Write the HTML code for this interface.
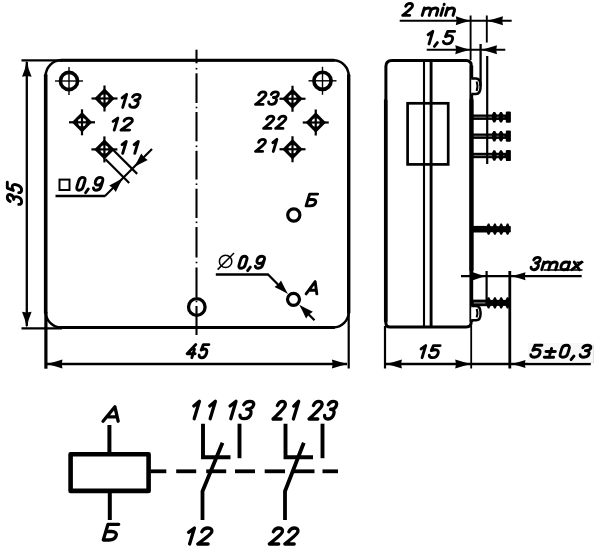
<!DOCTYPE html>
<html><head><meta charset="utf-8"><title>diagram</title>
<style>html,body{margin:0;padding:0;background:#fff;}svg{display:block;}</style></head>
<body><svg width="600" height="560" viewBox="0 0 600 560">
<defs><filter id="soft" x="0" y="0" width="600" height="560" filterUnits="userSpaceOnUse"><feGaussianBlur stdDeviation="0.7"/></filter></defs>
<rect width="600" height="560" fill="#fff"/>
<g filter="url(#soft)">
<rect x="45.7" y="60.3" width="303.0" height="267.2" rx="15.5" ry="15.5" fill="none" stroke="#000" stroke-width="2.5"/>
<line x1="60.70" y1="60.30" x2="333.70" y2="60.30" stroke="#000" stroke-width="3.0" stroke-linecap="round"/>
<line x1="60.70" y1="327.50" x2="333.70" y2="327.50" stroke="#000" stroke-width="3.2" stroke-linecap="round"/>
<line x1="45.70" y1="75.30" x2="45.70" y2="312.50" stroke="#000" stroke-width="3.6" stroke-linecap="round"/>
<line x1="348.70" y1="75.30" x2="348.70" y2="312.50" stroke="#000" stroke-width="3.4" stroke-linecap="round"/>
<line x1="21.50" y1="60.30" x2="62.00" y2="60.30" stroke="#000" stroke-width="2.3" stroke-linecap="butt"/>
<line x1="21.50" y1="328.30" x2="62.00" y2="328.30" stroke="#000" stroke-width="2.3" stroke-linecap="butt"/>
<line x1="45.90" y1="312.00" x2="45.90" y2="368.70" stroke="#000" stroke-width="3.2" stroke-linecap="butt"/>
<line x1="348.70" y1="312.00" x2="348.70" y2="368.50" stroke="#000" stroke-width="2.2" stroke-linecap="butt"/>
<line x1="26.80" y1="62.00" x2="26.80" y2="326.00" stroke="#000" stroke-width="2.3" stroke-linecap="butt"/>
<path d="M26.80,60.30 Q28.00,68.55 31.60,76.80 L26.80,76.00 L22.00,76.80 Q25.60,68.55 26.80,60.30 Z" fill="#000"/>
<path d="M26.80,328.30 Q25.60,320.05 22.00,311.80 L26.80,312.60 L31.60,311.80 Q28.00,320.05 26.80,328.30 Z" fill="#000"/>
<line x1="47.00" y1="364.00" x2="347.00" y2="364.00" stroke="#000" stroke-width="2.3" stroke-linecap="butt"/>
<path d="M46.50,364.00 Q54.50,362.11 62.50,359.50 L61.70,364.00 L62.50,368.50 Q54.50,365.89 46.50,364.00 Z" fill="#000"/>
<path d="M347.90,364.00 Q339.90,365.89 331.90,368.50 L332.70,364.00 L331.90,359.50 Q339.90,362.11 347.90,364.00 Z" fill="#000"/>
<line x1="196.50" y1="49.70" x2="196.50" y2="63.30" stroke="#000" stroke-width="2.1" stroke-linecap="butt"/>
<line x1="196.50" y1="73.30" x2="196.50" y2="103.00" stroke="#000" stroke-width="2.1" stroke-linecap="butt"/>
<line x1="196.50" y1="112.00" x2="196.50" y2="141.30" stroke="#000" stroke-width="2.1" stroke-linecap="butt"/>
<line x1="196.50" y1="150.80" x2="196.50" y2="179.50" stroke="#000" stroke-width="2.1" stroke-linecap="butt"/>
<line x1="196.50" y1="188.70" x2="196.50" y2="218.00" stroke="#000" stroke-width="2.1" stroke-linecap="butt"/>
<line x1="196.50" y1="227.00" x2="196.50" y2="257.50" stroke="#000" stroke-width="2.1" stroke-linecap="butt"/>
<line x1="196.50" y1="267.50" x2="196.50" y2="297.00" stroke="#000" stroke-width="2.1" stroke-linecap="butt"/>
<line x1="196.50" y1="306.00" x2="196.50" y2="335.00" stroke="#000" stroke-width="2.1" stroke-linecap="butt"/>
<line x1="196.50" y1="67.90" x2="196.50" y2="69.50" stroke="#000" stroke-width="1.7" stroke-linecap="butt"/>
<line x1="196.50" y1="106.70" x2="196.50" y2="108.30" stroke="#000" stroke-width="1.7" stroke-linecap="butt"/>
<line x1="196.50" y1="145.50" x2="196.50" y2="147.10" stroke="#000" stroke-width="1.7" stroke-linecap="butt"/>
<line x1="196.50" y1="183.40" x2="196.50" y2="185.00" stroke="#000" stroke-width="1.7" stroke-linecap="butt"/>
<line x1="196.50" y1="221.50" x2="196.50" y2="223.10" stroke="#000" stroke-width="1.7" stroke-linecap="butt"/>
<line x1="196.50" y1="261.70" x2="196.50" y2="263.30" stroke="#000" stroke-width="1.7" stroke-linecap="butt"/>
<line x1="196.50" y1="300.70" x2="196.50" y2="302.30" stroke="#000" stroke-width="1.7" stroke-linecap="butt"/>
<circle cx="69" cy="81" r="8.6" fill="none" stroke="#000" stroke-width="3.6"/>
<line x1="55.00" y1="81.00" x2="83.00" y2="81.00" stroke="#000" stroke-width="1.4" stroke-linecap="butt"/>
<line x1="69.00" y1="67.00" x2="69.00" y2="95.00" stroke="#000" stroke-width="1.4" stroke-linecap="butt"/>
<circle cx="322.5" cy="80.8" r="8.6" fill="none" stroke="#000" stroke-width="3.6"/>
<line x1="308.50" y1="80.80" x2="336.50" y2="80.80" stroke="#000" stroke-width="1.4" stroke-linecap="butt"/>
<line x1="322.50" y1="66.80" x2="322.50" y2="94.80" stroke="#000" stroke-width="1.4" stroke-linecap="butt"/>
<circle cx="196.8" cy="307" r="8.3" fill="none" stroke="#000" stroke-width="3.3"/>
<circle cx="293.8" cy="215" r="6.1" fill="none" stroke="#000" stroke-width="3.2"/>
<circle cx="293.5" cy="299.3" r="6.0" fill="none" stroke="#000" stroke-width="3.2"/>
<polygon points="104.5,88.3 114.7,98.5 104.5,108.7 94.3,98.5" fill="#000"/>
<circle cx="104.5" cy="98.5" r="4.2" fill="#fff"/>
<line x1="91.50" y1="98.50" x2="117.50" y2="98.50" stroke="#000" stroke-width="2.2" stroke-linecap="butt"/>
<line x1="104.50" y1="85.50" x2="104.50" y2="111.50" stroke="#000" stroke-width="2.2" stroke-linecap="butt"/>
<polygon points="82,112.1 92.2,122.3 82,132.5 71.8,122.3" fill="#000"/>
<circle cx="82" cy="122.3" r="4.2" fill="#fff"/>
<line x1="69.00" y1="122.30" x2="95.00" y2="122.30" stroke="#000" stroke-width="2.2" stroke-linecap="butt"/>
<line x1="82.00" y1="109.30" x2="82.00" y2="135.30" stroke="#000" stroke-width="2.2" stroke-linecap="butt"/>
<polygon points="104.4,139.20000000000002 114.60000000000001,149.4 104.4,159.6 94.2,149.4" fill="#000"/>
<circle cx="104.4" cy="149.4" r="4.2" fill="#fff"/>
<line x1="91.40" y1="149.40" x2="117.40" y2="149.40" stroke="#000" stroke-width="2.2" stroke-linecap="butt"/>
<line x1="104.40" y1="136.40" x2="104.40" y2="162.40" stroke="#000" stroke-width="2.2" stroke-linecap="butt"/>
<polygon points="292.5,88.55 302.7,98.75 292.5,108.95 282.3,98.75" fill="#000"/>
<circle cx="292.5" cy="98.75" r="4.2" fill="#fff"/>
<line x1="279.50" y1="98.75" x2="305.50" y2="98.75" stroke="#000" stroke-width="2.2" stroke-linecap="butt"/>
<line x1="292.50" y1="85.75" x2="292.50" y2="111.75" stroke="#000" stroke-width="2.2" stroke-linecap="butt"/>
<polygon points="315.75,112.3 325.95,122.5 315.75,132.7 305.55,122.5" fill="#000"/>
<circle cx="315.75" cy="122.5" r="4.2" fill="#fff"/>
<line x1="302.75" y1="122.50" x2="328.75" y2="122.50" stroke="#000" stroke-width="2.2" stroke-linecap="butt"/>
<line x1="315.75" y1="109.50" x2="315.75" y2="135.50" stroke="#000" stroke-width="2.2" stroke-linecap="butt"/>
<polygon points="292.5,139.05 302.7,149.25 292.5,159.45 282.3,149.25" fill="#000"/>
<circle cx="292.5" cy="149.25" r="4.2" fill="#fff"/>
<line x1="279.50" y1="149.25" x2="305.50" y2="149.25" stroke="#000" stroke-width="2.2" stroke-linecap="butt"/>
<line x1="292.50" y1="136.25" x2="292.50" y2="162.25" stroke="#000" stroke-width="2.2" stroke-linecap="butt"/>
<line x1="113.50" y1="150.20" x2="137.20" y2="173.90" stroke="#000" stroke-width="2.2" stroke-linecap="butt"/>
<line x1="105.50" y1="159.30" x2="129.20" y2="183.00" stroke="#000" stroke-width="2.2" stroke-linecap="butt"/>
<line x1="105.00" y1="196.00" x2="152.00" y2="149.00" stroke="#000" stroke-width="2.2" stroke-linecap="butt"/>
<line x1="55.50" y1="196.00" x2="105.30" y2="196.00" stroke="#000" stroke-width="2.3" stroke-linecap="butt"/>
<path d="M123.10,178.10 Q119.16,184.77 115.75,191.96 L113.06,188.14 L109.24,185.45 Q116.43,182.04 123.10,178.10 Z" fill="#000"/>
<path d="M133.90,167.30 Q137.84,160.63 141.25,153.44 L143.94,157.26 L147.76,159.95 Q140.57,163.36 133.90,167.30 Z" fill="#000"/>
<rect x="59.5" y="179.6" width="10" height="10.4" fill="none" stroke="#000" stroke-width="2"/>
<line x1="215.80" y1="274.50" x2="268.60" y2="274.50" stroke="#000" stroke-width="2.3" stroke-linecap="butt"/>
<line x1="267.80" y1="274.30" x2="283.00" y2="289.50" stroke="#000" stroke-width="2.3" stroke-linecap="butt"/>
<path d="M288.00,294.00 Q281.51,290.24 274.49,287.00 L278.31,284.31 L281.00,280.49 Q284.24,287.51 288.00,294.00 Z" fill="#000"/>
<path d="M299.20,304.80 Q305.75,308.50 312.85,311.66 L308.89,314.49 L306.06,318.45 Q302.90,311.35 299.20,304.80 Z" fill="#000"/>
<line x1="305.00" y1="310.80" x2="314.50" y2="320.30" stroke="#000" stroke-width="2.3" stroke-linecap="butt"/>
<ellipse cx="225.6" cy="261.4" rx="6.2" ry="6.2" fill="none" stroke="#000" stroke-width="1.5"/>
<line x1="217.60" y1="269.60" x2="234.00" y2="253.00" stroke="#000" stroke-width="1.5" stroke-linecap="butt"/>
<path d="M385.9,66.4 Q385.9,60.4 391.9,60.4 L466.2,60.4 Q471.2,60.4 471.2,65.4 L471.2,322.0 Q471.2,327.0 466.2,327.0 L389.9,327.0 Q385.9,327.0 385.9,323.0 Z" fill="none" stroke="#000" stroke-width="3.0"/>
<line x1="471.40" y1="65.40" x2="471.40" y2="322.00" stroke="#000" stroke-width="3.6" stroke-linecap="butt"/>
<line x1="471.50" y1="100.00" x2="471.50" y2="270.00" stroke="#000" stroke-width="4.2" stroke-linecap="round"/>
<line x1="385.70" y1="100.40" x2="385.70" y2="321.00" stroke="#000" stroke-width="3.5" stroke-linecap="round"/>
<line x1="424.00" y1="60.40" x2="424.00" y2="327.00" stroke="#000" stroke-width="2.1" stroke-linecap="butt"/>
<line x1="431.10" y1="60.40" x2="431.10" y2="327.00" stroke="#000" stroke-width="2.9" stroke-linecap="butt"/>
<rect x="407.6" y="103.3" width="40.6" height="61.1" fill="none" stroke="#000" stroke-width="2.7"/>
<rect x="471.2" y="114.5" width="38.69999999999999" height="5.4" fill="#000"/>
<rect x="473.7" y="116.60000000000001" width="30.69999999999999" height="1.2" fill="#666"/>
<polygon points="492.0,114.6 493.4,111.9 495.2,111.9 496.6,114.6 496.6,119.8 495.2,122.5 493.4,122.5 492.0,119.8" fill="#000"/>
<polygon points="498.7,114.6 500.1,111.9 501.9,111.9 503.3,114.6 503.3,119.8 501.9,122.5 500.1,122.5 498.7,119.8" fill="#000"/>
<rect x="505.8" y="111.60000000000001" width="5.1" height="11.2" rx="1.2" fill="#000"/>
<rect x="471.2" y="133.5" width="38.69999999999999" height="5.4" fill="#000"/>
<rect x="473.7" y="135.6" width="30.69999999999999" height="1.2" fill="#666"/>
<polygon points="492.0,133.6 493.4,130.9 495.2,130.9 496.6,133.6 496.6,138.8 495.2,141.5 493.4,141.5 492.0,138.8" fill="#000"/>
<polygon points="498.7,133.6 500.1,130.9 501.9,130.9 503.3,133.6 503.3,138.8 501.9,141.5 500.1,141.5 498.7,138.8" fill="#000"/>
<rect x="505.8" y="130.6" width="5.1" height="11.2" rx="1.2" fill="#000"/>
<rect x="471.2" y="152.8" width="38.69999999999999" height="5.4" fill="#000"/>
<rect x="473.7" y="154.9" width="30.69999999999999" height="1.2" fill="#666"/>
<polygon points="492.0,152.9 493.4,150.2 495.2,150.2 496.6,152.9 496.6,158.1 495.2,160.8 493.4,160.8 492.0,158.1" fill="#000"/>
<polygon points="498.7,152.9 500.1,150.2 501.9,150.2 503.3,152.9 503.3,158.1 501.9,160.8 500.1,160.8 498.7,158.1" fill="#000"/>
<rect x="505.8" y="149.9" width="5.1" height="11.2" rx="1.2" fill="#000"/>
<rect x="471.2" y="225.89999999999998" width="15.300000000000011" height="6.6" fill="#000"/>
<rect x="486" y="226.2" width="24.80000000000001" height="6.0" fill="#000"/>
<polygon points="486.5,226.4 487.9,223.6 489.3,223.6 490.7,226.4 490.7,232.0 489.3,234.8 487.9,234.8 486.5,232.0" fill="#000"/>
<polygon points="492.8,226.4 494.2,223.6 495.6,223.6 497.0,226.4 497.0,232.0 495.6,234.8 494.2,234.8 492.8,232.0" fill="#000"/>
<polygon points="499.1,226.4 500.5,223.6 501.9,223.6 503.3,226.4 503.3,232.0 501.9,234.8 500.5,234.8 499.1,232.0" fill="#000"/>
<polygon points="505.5,226.4 506.9,223.6 508.3,223.6 509.7,226.4 509.7,232.0 508.3,234.8 506.9,234.8 505.5,232.0" fill="#000"/>
<rect x="471.2" y="299.59999999999997" width="15.300000000000011" height="6.6" fill="#000"/>
<rect x="473.7" y="302.29999999999995" width="11.800000000000011" height="1.2" fill="#888"/>
<rect x="486" y="299.9" width="24.80000000000001" height="6.0" fill="#000"/>
<polygon points="486.5,300.1 487.9,297.3 489.3,297.3 490.7,300.1 490.7,305.7 489.3,308.5 487.9,308.5 486.5,305.7" fill="#000"/>
<polygon points="492.8,300.1 494.2,297.3 495.6,297.3 497.0,300.1 497.0,305.7 495.6,308.5 494.2,308.5 492.8,305.7" fill="#000"/>
<polygon points="499.1,300.1 500.5,297.3 501.9,297.3 503.3,300.1 503.3,305.7 501.9,308.5 500.5,308.5 499.1,305.7" fill="#000"/>
<polygon points="505.5,300.1 506.9,297.3 508.3,297.3 509.7,300.1 509.7,305.7 508.3,308.5 506.9,308.5 505.5,305.7" fill="#000"/>
<path d="M471.2,78.5 L476,78.5 Q480.6,78.5 480.6,86.25 Q480.6,94 476,94 L471.2,94" fill="#fff" stroke="#000" stroke-width="2.5"/>
<path d="M476.6,81.5 Q478.4,86.25 476.6,91" fill="none" stroke="#000" stroke-width="2.0"/>
<path d="M471.2,306 L476,306 Q480.6,306 480.6,313.15 Q480.6,320.3 476,320.3 L471.2,320.3" fill="#fff" stroke="#000" stroke-width="2.5"/>
<path d="M476.6,309 Q478.4,313.15 476.6,317.3" fill="none" stroke="#000" stroke-width="2.0"/>
<line x1="487.20" y1="56.00" x2="487.20" y2="164.00" stroke="#000" stroke-width="2.2" stroke-linecap="butt"/>
<line x1="480.60" y1="44.00" x2="480.60" y2="86.00" stroke="#000" stroke-width="2.3" stroke-linecap="butt"/>
<line x1="470.60" y1="15.50" x2="470.60" y2="60.00" stroke="#000" stroke-width="1.9" stroke-linecap="butt"/>
<line x1="486.80" y1="15.50" x2="486.80" y2="42.50" stroke="#000" stroke-width="1.9" stroke-linecap="butt"/>
<line x1="399.70" y1="20.80" x2="511.70" y2="20.80" stroke="#000" stroke-width="2.1" stroke-linecap="butt"/>
<path d="M470.30,20.80 Q463.05,22.69 455.80,25.30 L456.60,20.80 L455.80,16.30 Q463.05,18.91 470.30,20.80 Z" fill="#000"/>
<path d="M487.00,20.80 Q495.00,18.91 503.00,16.30 L502.20,20.80 L503.00,25.30 Q495.00,22.69 487.00,20.80 Z" fill="#000"/>
<line x1="426.70" y1="49.80" x2="505.30" y2="49.80" stroke="#000" stroke-width="2.1" stroke-linecap="butt"/>
<path d="M470.30,49.70 Q462.80,51.59 455.30,54.20 L456.10,49.70 L455.30,45.20 Q462.80,47.81 470.30,49.70 Z" fill="#000"/>
<path d="M481.00,49.70 Q489.00,47.81 497.00,45.20 L496.20,49.70 L497.00,54.20 Q489.00,51.59 481.00,49.70 Z" fill="#000"/>
<line x1="461.00" y1="276.20" x2="581.70" y2="276.20" stroke="#000" stroke-width="2.3" stroke-linecap="butt"/>
<path d="M485.50,276.20 Q478.50,278.09 471.50,280.70 L472.30,276.20 L471.50,271.70 Q478.50,274.31 485.50,276.20 Z" fill="#000"/>
<path d="M511.00,276.20 Q518.25,274.52 525.50,272.20 L524.70,276.20 L525.50,280.20 Q518.25,277.88 511.00,276.20 Z" fill="#000"/>
<line x1="486.60" y1="271.00" x2="486.60" y2="303.00" stroke="#000" stroke-width="2.2" stroke-linecap="butt"/>
<line x1="509.80" y1="271.00" x2="509.80" y2="368.50" stroke="#000" stroke-width="2.8" stroke-linecap="butt"/>
<line x1="385.00" y1="326.00" x2="385.00" y2="368.50" stroke="#000" stroke-width="2.2" stroke-linecap="butt"/>
<line x1="471.20" y1="326.00" x2="471.20" y2="368.50" stroke="#000" stroke-width="1.8" stroke-linecap="butt"/>
<line x1="386.00" y1="364.00" x2="590.80" y2="364.00" stroke="#000" stroke-width="2.3" stroke-linecap="butt"/>
<path d="M385.90,364.00 Q393.90,362.11 401.90,359.50 L401.10,364.00 L401.90,368.50 Q393.90,365.89 385.90,364.00 Z" fill="#000"/>
<path d="M471.20,364.00 Q463.20,365.89 455.20,368.50 L456.00,364.00 L455.20,359.50 Q463.20,362.11 471.20,364.00 Z" fill="#000"/>
<path d="M511.00,364.00 Q518.25,362.32 525.50,360.00 L524.70,364.00 L525.50,368.00 Q518.25,365.68 511.00,364.00 Z" fill="#000"/>
<rect x="70.6" y="454.3" width="78" height="36.6" fill="none" stroke="#000" stroke-width="4.6" stroke-linejoin="round"/>
<line x1="109.40" y1="425.00" x2="109.40" y2="454.00" stroke="#000" stroke-width="4.0" stroke-linecap="butt"/>
<line x1="109.80" y1="491.00" x2="109.80" y2="520.00" stroke="#000" stroke-width="4.0" stroke-linecap="butt"/>
<line x1="150.50" y1="471.30" x2="166.30" y2="471.30" stroke="#000" stroke-width="3.8" stroke-linecap="butt"/>
<line x1="176.20" y1="471.30" x2="196.20" y2="471.30" stroke="#000" stroke-width="3.8" stroke-linecap="butt"/>
<line x1="206.20" y1="471.30" x2="226.20" y2="471.30" stroke="#000" stroke-width="3.8" stroke-linecap="butt"/>
<line x1="235.00" y1="471.30" x2="255.00" y2="471.30" stroke="#000" stroke-width="3.8" stroke-linecap="butt"/>
<line x1="264.70" y1="471.30" x2="285.00" y2="471.30" stroke="#000" stroke-width="3.8" stroke-linecap="butt"/>
<line x1="292.70" y1="471.30" x2="314.50" y2="471.30" stroke="#000" stroke-width="3.8" stroke-linecap="butt"/>
<line x1="322.50" y1="471.30" x2="338.00" y2="471.30" stroke="#000" stroke-width="3.8" stroke-linecap="butt"/>
<polyline points="203,423.7 203,457.2 230.5,457.2" fill="none" stroke="#000" stroke-width="3.9"/>
<line x1="239.50" y1="423.70" x2="239.50" y2="458.20" stroke="#000" stroke-width="3.9" stroke-linecap="butt"/>
<polyline points="222.5,442.7 202.5,491.2 202.5,520" fill="none" stroke="#000" stroke-width="3.8" stroke-linejoin="round"/>
<polyline points="285.5,423.7 285.5,457.2 313,457.2" fill="none" stroke="#000" stroke-width="3.9"/>
<line x1="322.50" y1="423.70" x2="322.50" y2="458.20" stroke="#000" stroke-width="3.9" stroke-linecap="butt"/>
<polyline points="303.8,442.7 285.0,491.2 285.0,520" fill="none" stroke="#000" stroke-width="3.8" stroke-linejoin="round"/>
<rect x="528" y="343" width="65.5" height="19.5" fill="#f8f8f8"/>
<path d="M593.5,345 L593.5,362.5 L560,362.5" fill="none" stroke="#e2e2e2" stroke-width="1"/>
<line x1="543.50" y1="270.00" x2="582.50" y2="270.00" stroke="#000" stroke-width="1.6" stroke-linecap="butt"/>
<line x1="576.50" y1="262.30" x2="583.50" y2="262.30" stroke="#000" stroke-width="1.4" stroke-linecap="butt"/>
<g><title>13</title><path d="M122.10,97.87L126.63,94.35L122.72,107.40M132.58,96.96C133.54,95.26 135.20,94.35 137.04,94.35C139.36,94.35 140.57,95.39 140.02,97.22C139.44,99.18 137.59,100.22 134.81,100.22C137.59,100.22 138.69,101.66 138.07,103.75C137.36,106.09 135.44,107.40 132.97,107.40C130.66,107.40 129.60,106.36 129.76,104.79" fill="none" stroke="#000" stroke-width="2.9" stroke-linecap="round" stroke-linejoin="round"/></g>
<g><title>12</title><path d="M113.10,121.34L117.82,118.10L114.22,130.10M124.04,120.98C124.90,119.18 126.72,118.10 129.04,118.10C131.53,118.10 132.82,119.30 132.28,121.10C131.74,122.90 129.32,124.34 120.96,130.10L129.58,130.10" fill="none" stroke="#000" stroke-width="2.9" stroke-linecap="round" stroke-linejoin="round"/></g>
<g><title>11</title><path d="M122.10,144.69L126.23,141.50L122.69,153.30M134.16,144.69L138.29,141.50L134.75,153.30" fill="none" stroke="#000" stroke-width="2.9" stroke-linecap="round" stroke-linejoin="round"/></g>
<g><title>23</title><path d="M258.75,94.86C259.59,92.98 261.22,91.85 263.23,91.85C265.38,91.85 266.43,93.11 265.86,94.99C265.30,96.87 263.13,98.38 255.60,104.40L263.04,104.40M271.34,94.36C272.25,92.73 273.81,91.85 275.52,91.85C277.67,91.85 278.79,92.85 278.27,94.61C277.70,96.49 275.98,97.50 273.39,97.50C275.98,97.50 276.99,98.88 276.38,100.89C275.71,103.14 273.91,104.40 271.61,104.40C269.46,104.40 268.48,103.40 268.64,101.89" fill="none" stroke="#000" stroke-width="2.9" stroke-linecap="round" stroke-linejoin="round"/></g>
<g><title>22</title><path d="M266.69,119.05C267.51,117.21 269.12,116.10 271.09,116.10C273.20,116.10 274.23,117.33 273.67,119.18C273.12,121.02 270.99,122.50 263.60,128.40L270.91,128.40M278.76,119.05C279.59,117.21 281.19,116.10 283.16,116.10C285.27,116.10 286.30,117.33 285.75,119.18C285.19,121.02 283.07,122.50 275.67,128.40L282.98,128.40" fill="none" stroke="#000" stroke-width="2.9" stroke-linecap="round" stroke-linejoin="round"/></g>
<g><title>21</title><path d="M258.62,142.24C259.42,140.43 260.97,139.35 262.86,139.35C264.89,139.35 265.87,140.56 265.32,142.36C264.78,144.17 262.73,145.62 255.60,151.40L262.61,151.40M272.87,142.60L276.90,139.35L273.29,151.40" fill="none" stroke="#000" stroke-width="2.9" stroke-linecap="round" stroke-linejoin="round"/></g>
<g><title>0,9</title><path d="M82.84,177.40C80.88,177.40 79.33,178.68 78.64,180.98L76.95,186.62C76.25,188.92 77.04,190.20 79.00,190.20C80.95,190.20 82.51,188.92 83.20,186.62L84.89,180.98C85.58,178.68 84.79,177.40 82.84,177.40ZM88.30,188.92L85.58,192.76M102.65,181.24C101.88,183.80 100.12,185.08 97.90,185.08C95.68,185.08 94.69,183.80 95.45,181.24C96.22,178.68 97.98,177.40 100.20,177.40C102.43,177.40 103.42,178.68 102.65,181.24L101.11,186.36C100.35,188.92 98.59,190.20 96.36,190.20C94.28,190.20 93.35,189.18 93.46,187.90" fill="none" stroke="#000" stroke-width="2.9" stroke-linecap="round" stroke-linejoin="round"/></g>
<g><title>0,9</title><path d="M244.78,256.30C242.86,256.30 241.35,257.50 240.70,259.66L239.12,264.94C238.47,267.10 239.26,268.30 241.18,268.30C243.10,268.30 244.61,267.10 245.26,264.94L246.85,259.66C247.49,257.50 246.70,256.30 244.78,256.30ZM250.30,267.10L247.68,270.70M264.28,259.90C263.56,262.30 261.85,263.50 259.67,263.50C257.49,263.50 256.49,262.30 257.21,259.90C257.93,257.50 259.65,256.30 261.83,256.30C264.01,256.30 265.00,257.50 264.28,259.90L262.84,264.70C262.12,267.10 260.41,268.30 258.23,268.30C256.18,268.30 255.26,267.34 255.34,266.14" fill="none" stroke="#000" stroke-width="2.9" stroke-linecap="round" stroke-linejoin="round"/></g>
<g><title>Б</title><path d="M317.65,194.10L309.64,194.10L306.10,205.90L310.41,205.90C313.19,205.90 315.08,204.72 315.68,202.71C316.28,200.71 315.10,199.53 312.32,199.53L308.01,199.53" fill="none" stroke="#000" stroke-width="2.9" stroke-linecap="round" stroke-linejoin="round"/></g>
<g><title>A</title><path d="M306.10,293.90L315.16,281.60L316.83,293.90M308.83,290.21L316.31,290.21" fill="none" stroke="#000" stroke-width="2.9" stroke-linecap="round" stroke-linejoin="round"/></g>
<g><title>45</title><path d="M195.79,344.60L187.10,353.77L195.12,353.77M194.46,349.05L191.86,357.70M208.90,344.60L203.39,344.60L201.20,350.10C202.19,349.45 203.36,349.05 204.55,349.05C206.64,349.05 207.32,350.76 206.57,353.25C205.71,356.13 203.93,357.70 201.82,357.70C199.84,357.70 198.98,356.65 199.19,355.08" fill="none" stroke="#000" stroke-width="2.9" stroke-linecap="round" stroke-linejoin="round"/></g>
<g><title>15</title><path d="M421.10,348.85L425.68,345.60L422.07,357.65M440.14,345.60L433.45,345.60L431.29,350.66C432.42,350.06 433.81,349.70 435.25,349.70C437.80,349.70 438.77,351.26 438.08,353.55C437.29,356.20 435.27,357.65 432.71,357.65C430.31,357.65 429.17,356.69 429.28,355.24" fill="none" stroke="#000" stroke-width="2.9" stroke-linecap="round" stroke-linejoin="round"/></g>
<g transform="translate(0,213) rotate(-90)">
<g><title>35</title><path d="M11.63,10.16C12.59,8.30 14.13,7.30 15.77,7.30C17.83,7.30 18.85,8.44 18.25,10.45C17.61,12.59 15.90,13.74 13.42,13.74C15.90,13.74 16.79,15.31 16.11,17.60C15.34,20.17 13.54,21.60 11.34,21.60C9.28,21.60 8.40,20.46 8.64,18.74M30.70,7.30L24.95,7.30L22.59,13.31C23.62,12.59 24.85,12.16 26.09,12.16C28.28,12.16 28.96,14.02 28.14,16.74C27.20,19.88 25.32,21.60 23.12,21.60C21.06,21.60 20.18,20.46 20.41,18.74" fill="none" stroke="#000" stroke-width="2.9" stroke-linecap="round" stroke-linejoin="round"/></g>
</g>
<g><title>2 min</title><path d="M405.71,6.28C406.51,4.48 408.05,3.40 409.94,3.40C411.96,3.40 412.94,4.60 412.40,6.40C411.86,8.20 409.81,9.64 402.70,15.40L409.70,15.40M424.41,7.96L422.17,15.40M423.77,10.08C424.93,8.70 426.44,7.96 428.12,7.96C430.34,7.96 431.21,8.81 430.83,10.08L429.23,15.40M430.83,10.08C431.97,8.70 433.50,7.96 435.18,7.96C437.40,7.96 438.25,8.81 437.87,10.08L436.28,15.40M443.07,7.96L440.84,15.40M444.23,4.12L444.08,4.60M447.64,7.96L445.41,15.40M446.94,10.30C448.14,8.81 449.92,7.96 451.90,7.96C454.18,7.96 454.92,9.03 454.48,10.52L453.01,15.40" fill="none" stroke="#000" stroke-width="2.9" stroke-linecap="round" stroke-linejoin="round"/></g>
<g><title>1,5</title><path d="M428.10,34.77L432.80,31.40L429.05,43.90M437.35,42.65L434.38,46.40M454.59,31.40L447.75,31.40L445.51,36.65C446.68,36.02 448.10,35.65 449.58,35.65C452.18,35.65 453.16,37.27 452.45,39.65C451.63,42.40 449.55,43.90 446.94,43.90C444.48,43.90 443.33,42.90 443.44,41.40" fill="none" stroke="#000" stroke-width="2.9" stroke-linecap="round" stroke-linejoin="round"/></g>
<g><title>3max</title><path d="M533.74,259.86C534.61,258.26 536.06,257.40 537.64,257.40C539.62,257.40 540.64,258.38 540.12,260.11C539.57,261.95 537.96,262.94 535.58,262.94C537.96,262.94 538.87,264.29 538.28,266.26C537.61,268.47 535.93,269.70 533.81,269.70C531.83,269.70 530.95,268.72 531.12,267.24M544.01,262.07L541.72,269.70M543.35,264.25C544.51,262.84 546.01,262.07 547.65,262.07C549.82,262.07 550.67,262.95 550.28,264.25L548.64,269.70M550.28,264.25C551.42,262.84 552.93,262.07 554.57,262.07C556.75,262.07 557.57,262.95 557.18,264.25L555.55,269.70M569.77,262.07L567.48,269.70M568.98,264.69C569.51,262.95 568.28,262.07 566.19,262.07C563.80,262.07 561.92,263.38 561.17,265.89C560.41,268.40 561.51,269.70 563.75,269.70C565.99,269.70 567.74,268.83 568.20,267.30M574.24,262.07L579.41,269.70M581.70,262.07L571.95,269.70" fill="none" stroke="#000" stroke-width="2.9" stroke-linecap="round" stroke-linejoin="round"/></g>
<g><title>5±0,3</title><path d="M541.92,345.30L534.98,345.30L532.81,350.30C533.98,349.70 535.41,349.35 536.91,349.35C539.54,349.35 540.57,350.89 539.90,353.15C539.11,355.77 537.04,357.20 534.38,357.20C531.90,357.20 530.71,356.25 530.80,354.82M546.00,351.49L555.35,351.49M551.60,348.39L549.75,354.58M544.29,357.20L553.63,357.20M566.55,345.30C564.21,345.30 562.45,346.49 561.81,348.63L560.24,353.87C559.60,356.01 560.64,357.20 562.98,357.20C565.31,357.20 567.07,356.01 567.71,353.87L569.28,348.63C569.93,346.49 568.88,345.30 566.55,345.30ZM573.99,356.01L571.05,359.58M582.78,347.68C583.73,346.13 585.48,345.30 587.46,345.30C589.94,345.30 591.30,346.25 590.80,347.92C590.27,349.70 588.34,350.66 585.35,350.66C588.34,350.66 589.59,351.96 589.02,353.87C588.38,356.01 586.37,357.20 583.72,357.20C581.23,357.20 580.04,356.25 580.14,354.82" fill="none" stroke="#000" stroke-width="2.9" stroke-linecap="round" stroke-linejoin="round"/></g>
<g><title>A</title><path d="M103.05,421.20L114.93,406.80L118.16,421.20M106.64,416.88L117.17,416.88" fill="none" stroke="#000" stroke-width="3.3" stroke-linecap="round" stroke-linejoin="round"/></g>
<g><title>Б</title><path d="M118.70,524.30L108.01,524.30L103.30,540.00L109.06,540.00C112.76,540.00 115.28,538.43 116.08,535.76C116.88,533.09 115.30,531.52 111.60,531.52L105.84,531.52" fill="none" stroke="#000" stroke-width="3.3" stroke-linecap="round" stroke-linejoin="round"/></g>
<g><title>11</title><path d="M193.80,406.00L199.41,401.30L194.19,418.70M209.78,406.00L215.39,401.30L210.17,418.70" fill="none" stroke="#000" stroke-width="3.3" stroke-linecap="round" stroke-linejoin="round"/></g>
<g><title>13</title><path d="M230.05,406.00L236.01,401.30L230.79,418.70M243.78,404.78C245.05,402.52 247.23,401.30 249.65,401.30C252.67,401.30 254.26,402.69 253.53,405.13C252.75,407.74 250.32,409.13 246.68,409.13C250.32,409.13 251.75,411.04 250.92,413.83C249.98,416.96 247.45,418.70 244.22,418.70C241.19,418.70 239.81,417.31 240.03,415.22" fill="none" stroke="#000" stroke-width="3.3" stroke-linecap="round" stroke-linejoin="round"/></g>
<g><title>21</title><path d="M277.35,405.55C278.45,402.89 280.33,401.30 282.51,401.30C284.85,401.30 285.86,403.07 285.07,405.73C284.27,408.38 281.77,410.50 273.00,419.00L281.09,419.00M293.75,406.08L298.70,401.30L293.39,419.00" fill="none" stroke="#000" stroke-width="3.3" stroke-linecap="round" stroke-linejoin="round"/></g>
<g><title>23</title><path d="M313.38,405.55C314.50,402.89 316.51,401.30 318.88,401.30C321.43,401.30 322.58,403.07 321.79,405.73C320.99,408.38 318.32,410.50 309.00,419.00L317.80,419.00M328.31,404.84C329.50,402.54 331.40,401.30 333.43,401.30C335.97,401.30 337.23,402.72 336.49,405.19C335.69,407.85 333.58,409.27 330.52,409.27C333.58,409.27 334.68,411.21 333.83,414.04C332.88,417.23 330.66,419.00 327.95,419.00C325.40,419.00 324.31,417.58 324.61,415.46" fill="none" stroke="#000" stroke-width="3.3" stroke-linecap="round" stroke-linejoin="round"/></g>
<g><title>12</title><path d="M188.60,532.32L194.41,528.00L189.61,544.00M201.80,531.84C202.90,529.44 205.14,528.00 207.94,528.00C210.94,528.00 212.45,529.60 211.73,532.00C211.01,534.40 208.04,536.32 197.74,544.00L208.13,544.00" fill="none" stroke="#000" stroke-width="3.3" stroke-linecap="round" stroke-linejoin="round"/></g>
<g><title>22</title><path d="M273.32,531.84C274.38,529.44 276.45,528.00 278.98,528.00C281.69,528.00 283.01,529.60 282.29,532.00C281.57,534.40 278.83,536.32 269.30,544.00L278.69,544.00M288.83,531.84C289.89,529.44 291.96,528.00 294.49,528.00C297.20,528.00 298.52,529.60 297.80,532.00C297.08,534.40 294.34,536.32 284.81,544.00L294.20,544.00" fill="none" stroke="#000" stroke-width="3.3" stroke-linecap="round" stroke-linejoin="round"/></g>
</g>
</svg></body></html>
